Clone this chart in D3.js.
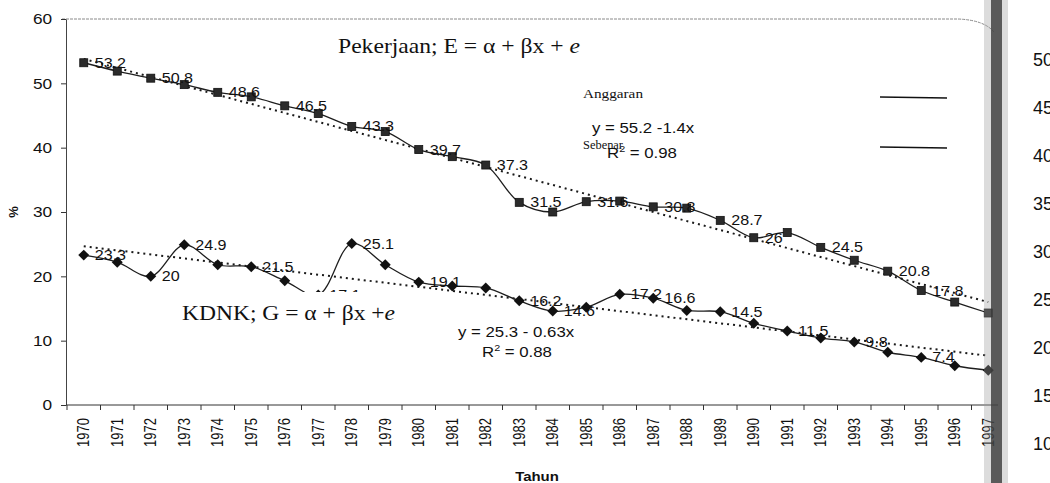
<!DOCTYPE html>
<html>
<head>
<meta charset="utf-8">
<script src="https://cdn.jsdelivr.net/npm/d3@7"></script>
<style>
  body { margin: 0; background: #fff; }
  svg { display: block; }
</style>
</head>
<body>
<div id="chart"></div>
<script>

// categories (x axis)
var years = [1970, 1971, 1972, 1973, 1974, 1975, 1976, 1977, 1978, 1979,
             1980, 1981, 1982, 1983, 1984, 1985, 1986, 1987, 1988, 1989,
             1990, 1991, 1992, 1993, 1994, 1995, 1996, 1997];

// Pekerjaan (employment share, %)
var pekerjaan = [53.2, 51.9, 50.8, 49.8, 48.6, 47.9, 46.5, 45.3, 43.3, 42.5,
                 39.7, 38.6, 37.3, 31.5, 30.0, 31.6, 31.7, 30.8, 30.6, 28.7,
                 26.0, 26.8, 24.5, 22.5, 20.8, 17.8, 16.0, 14.3];

// KDNK (GDP share, %)
var kdnk = [23.3, 22.2, 20.0, 24.9, 21.8, 21.5, 19.3, 17.1, 25.1, 21.8,
            19.1, 18.5, 18.2, 16.2, 14.6, 15.2, 17.2, 16.6, 14.7, 14.5,
            12.7, 11.5, 10.4, 9.8, 8.2, 7.4, 6.1, 5.4];

// which years carry a data label
var pekerjaanLabelYears = [1970, 1972, 1974, 1976, 1978, 1980, 1982, 1983, 1985,
                           1987, 1989, 1990, 1992, 1994, 1995];
var kdnkLabelYears = [1970, 1972, 1973, 1975, 1977, 1978, 1980, 1983, 1984,
                      1986, 1987, 1989, 1991, 1993, 1995];

// fitted trend lines y = a + b*x (x = 1 .. 28)
var trendPekerjaan = [55.2, -1.4];
var trendKdnk = [25.3, -0.63];

var yTicks = [0, 10, 20, 30, 40, 50, 60];

// numbers of the facing page that show through at the right edge
var facingPageTicks = ["50", "45", "40", "35", "30", "25", "20", "15", "10"];

var width = 1050, height = 483;
var sans = "'Liberation Sans', Arial, sans-serif";
var serif = "'Liberation Serif', 'Times New Roman', serif";

var svg = d3.select("#chart")
    .append("svg")
    .attr("width", width)
    .attr("height", height);

var x = d3.scaleBand().domain(years).range([67, 1005]);
var y = d3.scaleLinear().domain([0, 60]).range([405, 19]);

function cx(yr) { return x(yr) + x.bandwidth() / 2; }

// top frame line (dotted, bends with the page curl)
svg.append("path")
    .attr("d", "M62," + y(60) + " H958 Q984," + (y(60) + 1) + " 994," + (y(60) + 13))
    .attr("fill", "none")
    .attr("stroke", "#8a8a8a")
    .attr("stroke-width", 1)
    .attr("stroke-dasharray", "3,1");

// y axis
var yAxis = svg.append("g")
    .attr("transform", "translate(66,0)")
    .call(d3.axisLeft(y).tickValues(yTicks).tickSize(5).tickPadding(7).tickSizeOuter(0));
yAxis.select(".domain").attr("stroke", "#444");
yAxis.selectAll(".tick line").attr("stroke", "#333");
yAxis.selectAll("text")
    .style("font-family", sans)
    .style("font-size", "15px")
    .attr("fill", "#111")
    .attr("transform", "scale(1.15,1)");

// x axis
var xAxis = svg.append("g")
    .attr("transform", "translate(0,405)")
    .call(d3.axisBottom(x).tickSize(0).tickSizeOuter(0));
xAxis.select(".domain").attr("stroke", "#333").attr("d", "M66,0H998");
xAxis.selectAll("text")
    .style("font-family", sans)
    .style("font-size", "13px")
    .attr("fill", "#111")
    .attr("x", -13)
    .attr("y", 0)
    .attr("dy", "0.36em")
    .attr("text-anchor", "end")
    .attr("transform", "rotate(-90) scale(1,1.2)");

// tick marks sit on the category boundaries
xAxis.selectAll(".bound")
    .data(years)
    .enter()
    .append("line")
    .attr("class", "bound")
    .attr("x1", function (d) { return x(d); })
    .attr("x2", function (d) { return x(d); })
    .attr("y1", 0)
    .attr("y2", 5)
    .attr("stroke", "#333");

// trend lines (dotted)
function trendPoints(coef) {
    return [[years[0], coef[0] + coef[1] * 1],
            [years[years.length - 1], coef[0] + coef[1] * years.length]];
}
var trendLine = d3.line()
    .x(function (d) { return cx(d[0]); })
    .y(function (d) { return y(d[1]); });

[trendPekerjaan, trendKdnk].forEach(function (coef) {
    svg.append("path")
        .attr("d", trendLine(trendPoints(coef)))
        .attr("fill", "none")
        .attr("stroke", "#1a1a1a")
        .attr("stroke-width", 2)
        .attr("stroke-dasharray", "2,4");
});

// series lines (smoothed)
var seriesLine = d3.line()
    .x(function (d, i) { return cx(years[i]); })
    .y(function (d) { return y(d); })
    .curve(d3.curveCatmullRom.alpha(0.5));

[pekerjaan, kdnk].forEach(function (vals) {
    svg.append("path")
        .attr("d", seriesLine(vals))
        .attr("fill", "none")
        .attr("stroke", "#1e1e1e")
        .attr("stroke-width", 1.3);
});

// markers: squares for Pekerjaan, diamonds for KDNK
svg.selectAll(".sq")
    .data(pekerjaan)
    .enter()
    .append("rect")
    .attr("class", "sq")
    .attr("x", function (d, i) { return cx(years[i]) - 4; })
    .attr("y", function (d) { return y(d) - 4; })
    .attr("width", 8)
    .attr("height", 8)
    .attr("fill", "#2b2b2b")
    .attr("stroke", "#111")
    .attr("stroke-width", 0.8);

// even diamond (d3's own diamond is too tall)
var evenDiamond = {
    draw: function (context, size) {
        var r = Math.sqrt(size / 2);
        context.moveTo(0, -r);
        context.lineTo(r, 0);
        context.lineTo(0, r);
        context.lineTo(-r, 0);
        context.closePath();
    }
};

svg.selectAll(".dia")
    .data(kdnk)
    .enter()
    .append("path")
    .attr("class", "dia")
    .attr("d", d3.symbol().type(evenDiamond).size(60))
    .attr("transform", function (d, i) {
        return "translate(" + cx(years[i]) + "," + y(d) + ")";
    })
    .attr("fill", "#111");

// data labels
function addLabels(vals, labelYears) {
    svg.append("g")
        .selectAll("text")
        .data(labelYears)
        .enter()
        .append("text")
        .attr("transform", function (yr) {
            return "translate(" + (cx(yr) + 11) + "," + y(vals[years.indexOf(yr)]) + ") scale(1.15,1)";
        })
        .attr("dy", "0.36em")
        .style("font-family", sans)
        .style("font-size", "14px")
        .attr("fill", "#111")
        .text(function (yr) { return d3.format("~g")(vals[years.indexOf(yr)]); });
}
addLabels(pekerjaan, pekerjaanLabelYears);
addLabels(kdnk, kdnkLabelYears);

// equation titles
var t1 = svg.append("text")
    .attr("x", 338).attr("y", 53)
    .attr("textLength", 242)
    .attr("lengthAdjust", "spacingAndGlyphs")
    .style("font-family", serif)
    .style("font-size", "22px")
    .attr("fill", "#111");
t1.append("tspan").text("Pekerjaan; E = \u03b1 + \u03b2x + ");
t1.append("tspan").style("font-style", "italic").text("e");

svg.append("rect")
    .attr("x", 172).attr("y", 292)
    .attr("width", 238).attr("height", 34)
    .attr("fill", "#fff");
var t2 = svg.append("text")
    .attr("x", 182).attr("y", 320)
    .attr("textLength", 213)
    .attr("lengthAdjust", "spacingAndGlyphs")
    .style("font-family", serif)
    .style("font-size", "22px")
    .attr("fill", "#111");
t2.append("tspan").text("KDNK; G = \u03b1 + \u03b2x +");
t2.append("tspan").style("font-style", "italic").text("e");

// regression text
function eqText(px, py, str) {
    svg.append("text")
        .attr("transform", "translate(" + px + "," + py + ") scale(1.2,1)")
        .style("font-family", sans)
        .style("font-size", "14px")
        .attr("fill", "#111")
        .text(str);
}
function r2Text(px, py, val) {
    var t = svg.append("text")
        .attr("transform", "translate(" + px + "," + py + ") scale(1.2,1)")
        .style("font-family", sans)
        .style("font-size", "14px")
        .attr("fill", "#111");
    t.append("tspan").text("R");
    t.append("tspan").attr("dy", -6).style("font-size", "9px").text("2");
    t.append("tspan").attr("dy", 6).text(" = " + val);
}
eqText(592, 133, "y = 55.2 -1.4x");
r2Text(607, 158, "0.98");
eqText(458, 337, "y = 25.3 - 0.63x");
r2Text(482, 357, "0.88");

// legend
svg.append("text")
    .attr("x", 583).attr("y", 98)
    .attr("textLength", 60)
    .attr("lengthAdjust", "spacingAndGlyphs")
    .style("font-family", serif)
    .style("font-size", "12px")
    .attr("fill", "#111")
    .text("Anggaran");
svg.append("text")
    .attr("x", 583).attr("y", 149)
    .attr("textLength", 40)
    .attr("lengthAdjust", "spacingAndGlyphs")
    .style("font-family", serif)
    .style("font-size", "12px")
    .attr("fill", "#111")
    .text("Sebenar");
[97, 147].forEach(function (ly) {
    svg.append("line")
        .attr("x1", 880).attr("x2", 947)
        .attr("y1", ly).attr("y2", ly + 1)
        .attr("stroke", "#111")
        .attr("stroke-width", 1.5);
});

// axis titles
svg.append("text")
    .attr("transform", "translate(537,481) scale(1.15,1)")
    .attr("text-anchor", "middle")
    .style("font-family", sans)
    .style("font-size", "13px")
    .style("font-weight", "bold")
    .attr("fill", "#111")
    .text("Tahun");
svg.append("text")
    .attr("transform", "translate(18,212) rotate(-90)")
    .attr("text-anchor", "middle")
    .style("font-family", sans)
    .style("font-size", "13px")
    .style("font-weight", "bold")
    .attr("fill", "#111")
    .text("%");

// page gutter shadow of the scan
svg.append("rect")
    .attr("x", 984).attr("y", 0)
    .attr("width", 24).attr("height", height)
    .attr("fill", "#9a9a9a").attr("opacity", 0.35);
svg.append("rect")
    .attr("x", 991).attr("y", 0)
    .attr("width", 11).attr("height", height)
    .attr("fill", "#3a3a3a").attr("opacity", 0.8);

svg.append("g")
    .selectAll("text")
    .data(facingPageTicks)
    .enter()
    .append("text")
    .attr("x", 1033)
    .attr("y", function (d, i) { return 60 + i * 48; })
    .attr("dy", "0.36em")
    .style("font-family", sans)
    .style("font-size", "18px")
    .attr("fill", "#111")
    .text(function (d) { return d; });

</script>
</body>
</html>
